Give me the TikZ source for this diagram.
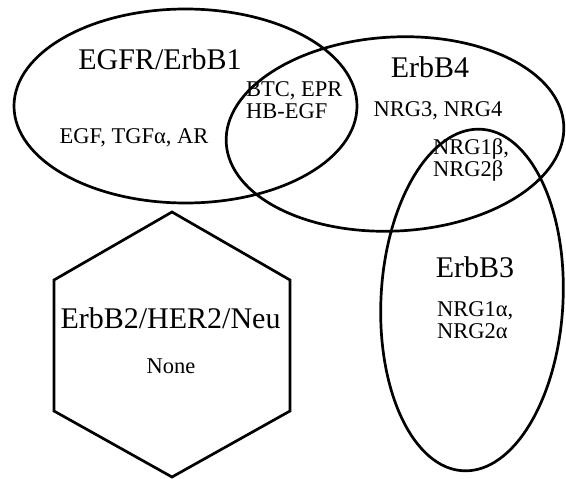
\documentclass[tikz,border=0pt]{standalone}
\usepackage{fontspec}
\setmainfont{Liberation Serif}
\begin{document}
\begin{tikzpicture}[x=1pt,y=-1pt,
  shapeline/.style={draw=black,line width=2.7pt},
  bigtitle/.style={font=\fontsize{30}{32}\selectfont,inner sep=0pt,anchor=base},
  ligand/.style={font=\fontsize{22.5}{22}\selectfont,inner sep=0pt,anchor=base},
  ligandml/.style={font=\fontsize{22.5}{21.5}\selectfont,inner sep=0pt,align=left,anchor=base west}]
\useasboundingbox (0,0) rectangle (566,479);
% shapes
\draw[shapeline] (185.5,106) ellipse [x radius=171.5, y radius=97];
\draw[shapeline,rotate around={3:(395,134)}] (395,134) ellipse [x radius=169, y radius=97];
\draw[shapeline,rotate around={-3:(472,300)}] (472,300) ellipse [x radius=91, y radius=171];
\draw[shapeline,line join=miter] (172,212) -- (290,280) -- (290,411) -- (172,477) -- (54,411) -- (54,280) -- cycle;
% texts
\node[bigtitle] (egfr) at (160,70) {EGFR/ErbB1};
\node[ligand] (egfl) at (134,143) {EGF, TGFα, AR};
\node[ligandml] (btc) at (246,118) {BTC, EPR\\HB-EGF};
\node[bigtitle] (erbb4) at (430,77) {ErbB4};
\node[ligand] (nrg34) at (438,116) {NRG3, NRG4};
\node[ligandml] (nrgb) at (433,176) {NRG1β,\\NRG2β};
\node[bigtitle] (erbb3) at (475,277) {ErbB3};
\node[ligandml] (nrga) at (437,338) {NRG1α,\\NRG2α};
\node[bigtitle] (erbb2) at (170.5,328) {ErbB2/HER2/Neu};
\node[ligand] (none) at (171,373) {None};
\end{tikzpicture}
\end{document}
